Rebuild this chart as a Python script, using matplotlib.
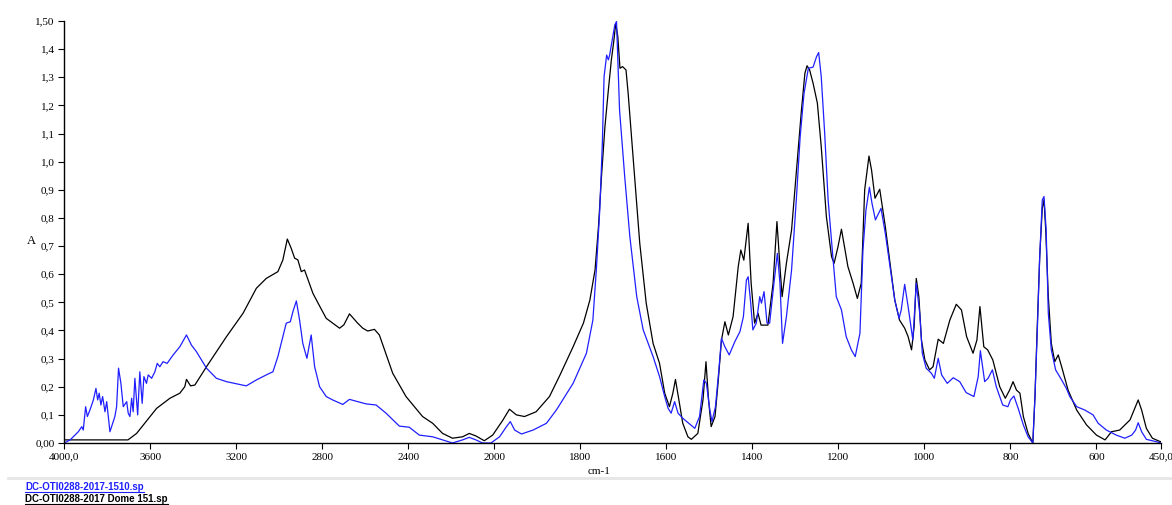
import numpy as np
import matplotlib
matplotlib.use("Agg")
import matplotlib.pyplot as plt
from matplotlib.lines import Line2D

# spectrum 1 (blue): DC-OTI0288-2017-1510.sp
blue_wn = [
    4000, 3973, 3935, 3919, 3912, 3901, 3893, 3881, 3865, 3853, 3845, 3838, 3830, 3822,
    3811, 3803, 3788, 3765, 3757, 3748, 3737, 3726, 3710, 3703, 3695, 3687, 3680, 3672,
    3659, 3649, 3638, 3630, 3618, 3610, 3594, 3579, 3568, 3556, 3541, 3522, 3494, 3463,
    3432, 3409, 3386, 3339, 3293, 3246, 3154, 3107, 3053, 3030, 3007, 2984, 2968, 2949,
    2937, 2921, 2906, 2891, 2872, 2852, 2836, 2813, 2782, 2752, 2705, 2674, 2636, 2597,
    2550, 2504, 2442, 2396, 2349, 2287, 2241, 2195, 2148, 2117, 2086, 2055, 2016, 1988,
    1972, 1963, 1953, 1937, 1910, 1879, 1856, 1817, 1786, 1771, 1763, 1755, 1749, 1745,
    1739, 1735, 1732, 1726, 1720, 1716, 1713, 1709, 1697, 1685, 1669, 1654, 1631, 1616,
    1604, 1596, 1589, 1581, 1573, 1562, 1548, 1534, 1523, 1513, 1507, 1499, 1494, 1486,
    1478, 1472, 1464, 1454, 1441, 1429, 1421, 1414, 1410, 1404, 1399, 1391, 1383, 1379,
    1373, 1366, 1360, 1350, 1342, 1336, 1330, 1321, 1309, 1298, 1289, 1280, 1270, 1259,
    1251, 1246, 1240, 1232, 1224, 1213, 1205, 1193, 1182, 1170, 1161, 1150, 1143, 1136,
    1128, 1122, 1114, 1101, 1091, 1080, 1069, 1059, 1054, 1046, 1038, 1027, 1019, 1011,
    1005, 996, 984, 977, 968, 960, 947, 933, 918, 903, 885, 875, 870, 860,
    852, 842, 833, 818, 806, 800, 792, 782, 770, 759, 748, 743, 737, 732,
    726, 722, 717, 712, 705, 695, 681, 670, 662, 646, 627, 608, 596, 577,
    554, 534, 518, 509, 503, 495, 484, 462, 450,
]
blue_abs = [
    0.000, 0.011, 0.040, 0.058, 0.046, 0.129, 0.094, 0.117, 0.153, 0.194, 0.153, 0.177, 0.135, 0.165,
    0.111, 0.147, 0.040, 0.094, 0.129, 0.266, 0.212, 0.129, 0.147, 0.106, 0.094, 0.159, 0.111, 0.230,
    0.100, 0.253, 0.141, 0.236, 0.212, 0.242, 0.230, 0.253, 0.283, 0.271, 0.289, 0.283, 0.313, 0.342,
    0.384, 0.348, 0.325, 0.266, 0.230, 0.218, 0.203, 0.224, 0.245, 0.253, 0.307, 0.378, 0.426, 0.431,
    0.467, 0.505, 0.437, 0.354, 0.301, 0.384, 0.271, 0.200, 0.165, 0.153, 0.137, 0.155, 0.147, 0.139,
    0.135, 0.106, 0.060, 0.056, 0.028, 0.022, 0.011, 0.000, 0.011, 0.020, 0.011, 0.000, 0.000, 0.022,
    0.058, 0.076, 0.046, 0.032, 0.046, 0.070, 0.117, 0.212, 0.319, 0.437, 0.615, 0.828, 1.065, 1.302,
    1.379, 1.362, 1.379, 1.433, 1.486, 1.498, 1.362, 1.184, 0.947, 0.733, 0.520, 0.402, 0.307, 0.236,
    0.165, 0.123, 0.106, 0.147, 0.106, 0.088, 0.070, 0.052, 0.094, 0.224, 0.212, 0.117, 0.076, 0.129,
    0.260, 0.372, 0.342, 0.313, 0.360, 0.396, 0.449, 0.579, 0.591, 0.497, 0.402, 0.426, 0.520, 0.497,
    0.538, 0.426, 0.426, 0.568, 0.674, 0.568, 0.354, 0.449, 0.615, 0.864, 1.089, 1.243, 1.332, 1.336,
    1.373, 1.388, 1.302, 1.101, 0.864, 0.662, 0.520, 0.473, 0.378, 0.331, 0.307, 0.390, 0.686, 0.828,
    0.909, 0.852, 0.793, 0.834, 0.745, 0.627, 0.508, 0.443, 0.473, 0.564, 0.485, 0.366, 0.568, 0.461,
    0.319, 0.266, 0.248, 0.230, 0.301, 0.242, 0.212, 0.232, 0.218, 0.179, 0.165, 0.236, 0.328, 0.218,
    0.230, 0.260, 0.200, 0.135, 0.129, 0.153, 0.167, 0.123, 0.064, 0.022, 0.000, 0.165, 0.426, 0.662,
    0.864, 0.876, 0.757, 0.461, 0.331, 0.260, 0.224, 0.194, 0.165, 0.129, 0.117, 0.100, 0.070, 0.046,
    0.028, 0.017, 0.028, 0.046, 0.072, 0.040, 0.013, 0.005, 0.000,
]

# spectrum 2 (black): DC-OTI0288-2017 Dome 151.sp
black_wn = [
    4000, 3900, 3704, 3664, 3571, 3509, 3463, 3440, 3432, 3413, 3393, 3339, 3246, 3169,
    3107, 3061, 3007, 2984, 2963, 2945, 2929, 2914, 2898, 2883, 2844, 2813, 2782, 2752,
    2720, 2700, 2674, 2636, 2612, 2589, 2558, 2535, 2473, 2411, 2334, 2287, 2241, 2195,
    2148, 2117, 2086, 2047, 2008, 1980, 1965, 1949, 1930, 1903, 1872, 1848, 1817, 1793,
    1778, 1766, 1758, 1751, 1743, 1735, 1728, 1722, 1718, 1713, 1708, 1702, 1694, 1689,
    1677, 1662, 1647, 1631, 1616, 1604, 1593, 1585, 1579, 1571, 1562, 1550, 1542, 1527,
    1515, 1508, 1502, 1496, 1487, 1480, 1472, 1464, 1456, 1445, 1433, 1427, 1420, 1410,
    1403, 1395, 1387, 1380, 1364, 1352, 1343, 1336, 1331, 1321, 1309, 1298, 1286, 1278,
    1273, 1267, 1259, 1249, 1240, 1228, 1216, 1210, 1201, 1193, 1186, 1178, 1166, 1156,
    1147, 1139, 1129, 1123, 1115, 1104, 1091, 1080, 1069, 1058, 1046, 1038, 1030, 1024,
    1019, 1013, 1007, 999, 988, 980, 968, 956, 941, 926, 914, 902, 887, 878,
    871, 862, 853, 841, 825, 812, 802, 794, 786, 778, 770, 759, 748, 743,
    738, 732, 726, 722, 718, 712, 705, 697, 689, 681, 666, 646, 623, 600,
    580, 565, 546, 522, 511, 503, 495, 484, 470, 452, 450,
]
black_abs = [
    0.011, 0.011, 0.011, 0.034, 0.123, 0.159, 0.177, 0.200, 0.226, 0.203, 0.206, 0.271, 0.378, 0.461,
    0.550, 0.585, 0.609, 0.650, 0.725, 0.692, 0.657, 0.651, 0.609, 0.615, 0.532, 0.487, 0.443, 0.426,
    0.408, 0.420, 0.459, 0.426, 0.408, 0.398, 0.404, 0.384, 0.248, 0.165, 0.094, 0.070, 0.034, 0.017,
    0.022, 0.034, 0.025, 0.008, 0.028, 0.082, 0.120, 0.100, 0.094, 0.111, 0.165, 0.240, 0.342, 0.426,
    0.508, 0.615, 0.769, 0.947, 1.124, 1.255, 1.362, 1.433, 1.492, 1.444, 1.332, 1.338, 1.326, 1.243,
    1.006, 0.710, 0.497, 0.354, 0.283, 0.177, 0.129, 0.177, 0.226, 0.153, 0.070, 0.022, 0.013, 0.034,
    0.153, 0.289, 0.153, 0.058, 0.094, 0.212, 0.366, 0.431, 0.384, 0.449, 0.627, 0.686, 0.650, 0.781,
    0.568, 0.426, 0.461, 0.419, 0.419, 0.568, 0.787, 0.627, 0.520, 0.639, 0.757, 0.959, 1.184, 1.314,
    1.341, 1.326, 1.279, 1.208, 1.053, 0.804, 0.662, 0.639, 0.698, 0.760, 0.698, 0.627, 0.568, 0.514,
    0.568, 0.900, 1.020, 0.970, 0.870, 0.902, 0.769, 0.639, 0.508, 0.437, 0.408, 0.378, 0.331, 0.413,
    0.585, 0.520, 0.366, 0.295, 0.260, 0.271, 0.369, 0.354, 0.437, 0.493, 0.473, 0.378, 0.319, 0.366,
    0.485, 0.342, 0.331, 0.295, 0.200, 0.159, 0.188, 0.218, 0.188, 0.177, 0.094, 0.034, 0.000, 0.165,
    0.402, 0.662, 0.834, 0.864, 0.757, 0.520, 0.354, 0.289, 0.313, 0.271, 0.188, 0.117, 0.064, 0.028,
    0.011, 0.040, 0.046, 0.082, 0.123, 0.153, 0.117, 0.052, 0.017, 0.005, 0.005,
]

x_ticks = [4000, 3600, 3200, 2800, 2400, 2000, 1800, 1600, 1400, 1200, 1000, 800, 600, 450]
x_tick_labels = ["4000,0", "3600", "3200", "2800", "2400", "2000", "1800", "1600",
                 "1400", "1200", "1000", "800", "600", "450,0"]
y_ticks = [0.0, 0.1, 0.2, 0.3, 0.4, 0.5, 0.6, 0.7, 0.8, 0.9, 1.0, 1.1, 1.2, 1.3, 1.4, 1.5]
y_tick_labels = ["0,00", "0,1", "0,2", "0,3", "0,4", "0,5", "0,6", "0,7", "0,8", "0,9",
                 "1,0", "1,1", "1,2", "1,3", "1,4", "1,50"]

legend_names = ["DC-OTI0288-2017-1510.sp", "DC-OTI0288-2017 Dome 151.sp"]
legend_colors = ["#1f1fff", "#000000"]


# the x axis is expanded by 2 below 2000 cm-1
def forward(x):
    x = np.asarray(x, dtype=float)
    return np.where(x >= 2000, 2000 + (x - 2000) / 2.0, x)


def inverse(y):
    y = np.asarray(y, dtype=float)
    return np.where(y >= 2000, 2000 + (y - 2000) * 2.0, y)


fig = plt.figure(figsize=(11.72, 5.05), dpi=100)
ax = fig.add_axes([0.0549, 0.1228, 0.9357, 0.8356])

ax.plot(black_wn, black_abs, color=legend_colors[1], linewidth=0.9)
ax.plot(blue_wn, blue_abs, color=legend_colors[0], linewidth=0.9)

ax.set_xscale("function", functions=(forward, inverse))
ax.set_xlim(4000, 450)
ax.set_ylim(0, 1.5)

serif = "Liberation Serif"
ax.set_xticks(x_ticks)
ax.set_xticklabels(x_tick_labels, fontfamily=serif, fontsize=8)
ax.set_yticks(y_ticks)
ax.set_yticklabels(y_tick_labels, fontfamily=serif, fontsize=8)
ax.minorticks_off()
ax.tick_params(axis="both", direction="out", length=4, width=0.8, pad=3, colors="black")

for side in ("top", "right"):
    ax.spines[side].set_visible(False)
for side in ("left", "bottom"):
    ax.spines[side].set_linewidth(1.0)

ax.set_ylabel("A", fontfamily=serif, fontsize=9, rotation=0)
ax.yaxis.set_label_coords(-0.030, 0.465)
ax.set_xlabel("cm-1", fontfamily=serif, fontsize=8)
ax.xaxis.set_label_coords(0.488, -0.056)

# legend strip under the plot
fig.add_artist(Line2D([8 / 1172, 1.0], [1 - 478 / 505] * 2, transform=fig.transFigure,
                      color="#e6e6e6", linewidth=2))

texts = []
for i, (name, col) in enumerate(zip(legend_names, legend_colors)):
    t = fig.text(25 / 1172, 1 - (487 + 12 * i) / 505, name, color=col, fontsize=7,
                 fontfamily="Liberation Sans", fontweight="bold", va="center", ha="left")
    texts.append(t)

fig.canvas.draw()
renderer = fig.canvas.get_renderer()
inv = fig.transFigure.inverted()
for t, col in zip(texts, legend_colors):
    bb = t.get_window_extent(renderer)
    (x0, y0), (x1, _) = inv.transform([[bb.x0, bb.y0 + 0.5], [bb.x1, bb.y0]])
    fig.add_artist(Line2D([x0, x1], [y0, y0], transform=fig.transFigure, color=col, linewidth=0.8))

fig.savefig("out.png", dpi=100)
